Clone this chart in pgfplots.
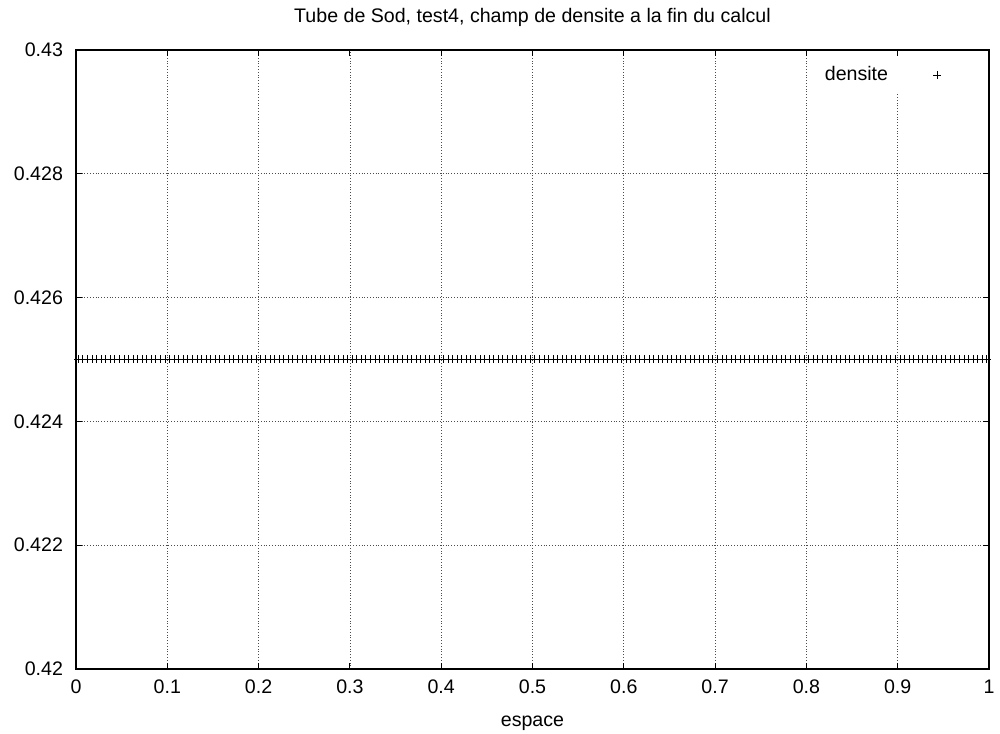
\documentclass[border=0pt]{standalone}
\usepackage{pgfplots}
\pgfplotsset{compat=1.18}
\usepackage{fontspec}
\setmainfont{Liberation Sans}
\begin{document}
\begin{tikzpicture}
\begin{axis}[
  scale only axis,
  width=456.5pt, height=309.5pt,
  xmin=0, xmax=1, ymin=0.42, ymax=0.43,
  xtick={0,0.1,...,1}, ytick={0.42,0.422,0.424,0.426,0.428,0.43},
  xticklabels={0,0.1,0.2,0.3,0.4,0.5,0.6,0.7,0.8,0.9,1},
  yticklabels={0.42,0.422,0.424,0.426,0.428,0.43},
  grid=major,
  grid style={black!70, densely dotted, line width=0.4pt},
  tick align=inside, major tick length=3pt,
  tick style={black, line width=0.5pt},
  axis line style={line width=0.7pt},
  font=\fontsize{9.8}{11}\selectfont,
  yticklabel style={xshift=-3pt},
  xticklabel style={yshift=-2pt},
  title={Tube de Sod, test4, champ de densite a la fin du calcul},
  title style={yshift=2pt},
  xlabel={espace},
  xlabel style={yshift=-4pt},
  legend style={draw=none, fill=white, at={(1,1)}, anchor=north east, xshift=-4pt, yshift=-4pt, font=\fontsize{9.8}{11}\selectfont},
  legend plot pos=right,
  legend cell align=right,
  legend image code/.code={\path[draw=none] (0cm,0cm) -- (1.45cm,0cm); \draw[#1] plot[only marks] coordinates {(0.79cm,0cm)};},
]
\addplot[only marks, mark=+, mark size=2pt, black, mark options={line width=0.4pt}] table[row sep=\\] {
x y\\
0.0025 0.425\\ 0.0075 0.425\\ 0.0125 0.425\\ 0.0175 0.425\\ 0.0225 0.425\\ 0.0275 0.425\\ 0.0325 0.425\\ 0.0375 0.425\\ 0.0425 0.425\\ 0.0475 0.425\\
0.0525 0.425\\ 0.0575 0.425\\ 0.0625 0.425\\ 0.0675 0.425\\ 0.0725 0.425\\ 0.0775 0.425\\ 0.0825 0.425\\ 0.0875 0.425\\ 0.0925 0.425\\ 0.0975 0.425\\
0.1025 0.425\\ 0.1075 0.425\\ 0.1125 0.425\\ 0.1175 0.425\\ 0.1225 0.425\\ 0.1275 0.425\\ 0.1325 0.425\\ 0.1375 0.425\\ 0.1425 0.425\\ 0.1475 0.425\\
0.1525 0.425\\ 0.1575 0.425\\ 0.1625 0.425\\ 0.1675 0.425\\ 0.1725 0.425\\ 0.1775 0.425\\ 0.1825 0.425\\ 0.1875 0.425\\ 0.1925 0.425\\ 0.1975 0.425\\
0.2025 0.425\\ 0.2075 0.425\\ 0.2125 0.425\\ 0.2175 0.425\\ 0.2225 0.425\\ 0.2275 0.425\\ 0.2325 0.425\\ 0.2375 0.425\\ 0.2425 0.425\\ 0.2475 0.425\\
0.2525 0.425\\ 0.2575 0.425\\ 0.2625 0.425\\ 0.2675 0.425\\ 0.2725 0.425\\ 0.2775 0.425\\ 0.2825 0.425\\ 0.2875 0.425\\ 0.2925 0.425\\ 0.2975 0.425\\
0.3025 0.425\\ 0.3075 0.425\\ 0.3125 0.425\\ 0.3175 0.425\\ 0.3225 0.425\\ 0.3275 0.425\\ 0.3325 0.425\\ 0.3375 0.425\\ 0.3425 0.425\\ 0.3475 0.425\\
0.3525 0.425\\ 0.3575 0.425\\ 0.3625 0.425\\ 0.3675 0.425\\ 0.3725 0.425\\ 0.3775 0.425\\ 0.3825 0.425\\ 0.3875 0.425\\ 0.3925 0.425\\ 0.3975 0.425\\
0.4025 0.425\\ 0.4075 0.425\\ 0.4125 0.425\\ 0.4175 0.425\\ 0.4225 0.425\\ 0.4275 0.425\\ 0.4325 0.425\\ 0.4375 0.425\\ 0.4425 0.425\\ 0.4475 0.425\\
0.4525 0.425\\ 0.4575 0.425\\ 0.4625 0.425\\ 0.4675 0.425\\ 0.4725 0.425\\ 0.4775 0.425\\ 0.4825 0.425\\ 0.4875 0.425\\ 0.4925 0.425\\ 0.4975 0.425\\
0.5025 0.425\\ 0.5075 0.425\\ 0.5125 0.425\\ 0.5175 0.425\\ 0.5225 0.425\\ 0.5275 0.425\\ 0.5325 0.425\\ 0.5375 0.425\\ 0.5425 0.425\\ 0.5475 0.425\\
0.5525 0.425\\ 0.5575 0.425\\ 0.5625 0.425\\ 0.5675 0.425\\ 0.5725 0.425\\ 0.5775 0.425\\ 0.5825 0.425\\ 0.5875 0.425\\ 0.5925 0.425\\ 0.5975 0.425\\
0.6025 0.425\\ 0.6075 0.425\\ 0.6125 0.425\\ 0.6175 0.425\\ 0.6225 0.425\\ 0.6275 0.425\\ 0.6325 0.425\\ 0.6375 0.425\\ 0.6425 0.425\\ 0.6475 0.425\\
0.6525 0.425\\ 0.6575 0.425\\ 0.6625 0.425\\ 0.6675 0.425\\ 0.6725 0.425\\ 0.6775 0.425\\ 0.6825 0.425\\ 0.6875 0.425\\ 0.6925 0.425\\ 0.6975 0.425\\
0.7025 0.425\\ 0.7075 0.425\\ 0.7125 0.425\\ 0.7175 0.425\\ 0.7225 0.425\\ 0.7275 0.425\\ 0.7325 0.425\\ 0.7375 0.425\\ 0.7425 0.425\\ 0.7475 0.425\\
0.7525 0.425\\ 0.7575 0.425\\ 0.7625 0.425\\ 0.7675 0.425\\ 0.7725 0.425\\ 0.7775 0.425\\ 0.7825 0.425\\ 0.7875 0.425\\ 0.7925 0.425\\ 0.7975 0.425\\
0.8025 0.425\\ 0.8075 0.425\\ 0.8125 0.425\\ 0.8175 0.425\\ 0.8225 0.425\\ 0.8275 0.425\\ 0.8325 0.425\\ 0.8375 0.425\\ 0.8425 0.425\\ 0.8475 0.425\\
0.8525 0.425\\ 0.8575 0.425\\ 0.8625 0.425\\ 0.8675 0.425\\ 0.8725 0.425\\ 0.8775 0.425\\ 0.8825 0.425\\ 0.8875 0.425\\ 0.8925 0.425\\ 0.8975 0.425\\
0.9025 0.425\\ 0.9075 0.425\\ 0.9125 0.425\\ 0.9175 0.425\\ 0.9225 0.425\\ 0.9275 0.425\\ 0.9325 0.425\\ 0.9375 0.425\\ 0.9425 0.425\\ 0.9475 0.425\\
0.9525 0.425\\ 0.9575 0.425\\ 0.9625 0.425\\ 0.9675 0.425\\ 0.9725 0.425\\ 0.9775 0.425\\ 0.9825 0.425\\ 0.9875 0.425\\ 0.9925 0.425\\ 0.9975 0.425\\
};
\addlegendentry{densite}
\end{axis}
\pgfresetboundingbox
\path (-38pt,-32pt) rectangle (462pt,334.5pt);
\end{tikzpicture}
\end{document}
